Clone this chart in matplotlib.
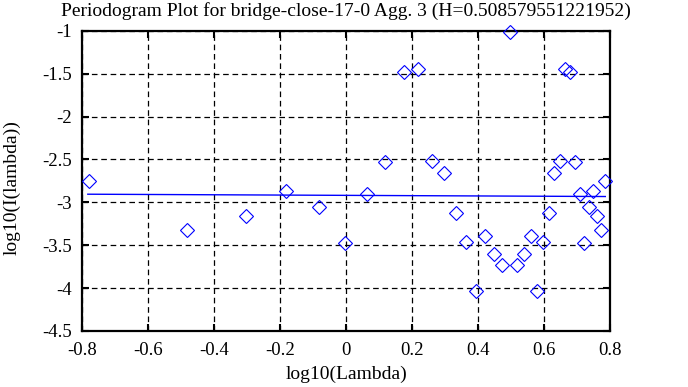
import matplotlib
matplotlib.use("Agg")
import matplotlib.pyplot as plt

# periodogram points (log10 lambda, log10 I(lambda))
log_lambda = [-0.779, -0.481, -0.304, -0.181, -0.083, -0.003, 0.063, 0.118,
              0.174, 0.219, 0.260, 0.297, 0.332, 0.363, 0.394, 0.420, 0.448,
              0.473, 0.497, 0.517, 0.539, 0.561, 0.578, 0.597, 0.615, 0.631,
              0.648, 0.664, 0.679, 0.693, 0.709, 0.722, 0.735, 0.747, 0.761,
              0.773, 0.785]
log_i = [-2.75, -3.32, -3.16, -2.87, -3.06, -3.47, -2.90, -2.53,
         -1.475, -1.445, -2.515, -2.66, -3.12, -3.46, -4.03, -3.39, -3.60,
         -3.73, -1.015, -3.73, -3.60, -3.39, -4.03, -3.46, -3.12, -2.66,
         -2.515, -1.445, -1.475, -2.53, -2.90, -3.47, -3.06, -2.87, -3.16,
         -3.32, -2.75]

# least squares fit line endpoints
fit_x = [-0.782, 0.785]
fit_y = [-2.905, -2.932]

xticks = [-0.8, -0.6, -0.4, -0.2, 0, 0.2, 0.4, 0.6, 0.8]
xticklabels = ["-0.8", "-0.6", "-0.4", "-0.2", "0", "0.2", "0.4", "0.6", "0.8"]
yticks = [-4.5, -4, -3.5, -3, -2.5, -2, -1.5, -1]
yticklabels = ["-4.5", "-4", "-3.5", "-3", "-2.5", "-2", "-1.5", "-1"]

plt.rcParams["font.family"] = ["Liberation Serif", "DejaVu Serif"]

fig = plt.figure(figsize=(6.88, 3.87), dpi=100)
ax = fig.add_axes([0.119, 0.145, 0.768, 0.775])

ax.plot(log_lambda, log_i, linestyle="none", marker="D", markersize=7.5,
        markerfacecolor="none", markeredgecolor="#0000ff",
        markeredgewidth=0.8, clip_on=False, zorder=3)
ax.plot(fit_x, fit_y, color="#0000ff", linewidth=1.0, zorder=2)

ax.set_xlim(-0.8, 0.8)
ax.set_ylim(-4.5, -1)
ax.set_xticks(xticks)
ax.set_xticklabels(xticklabels)
ax.set_yticks(yticks)
ax.set_yticklabels(yticklabels)

ax.grid(True, color="black", linestyle=(0, (4.5, 3)), linewidth=0.9)
ax.tick_params(direction="in", length=5, width=1.5, top=True, right=True,
               labelsize=13.5)
ax.tick_params(axis="x", pad=8)
ax.tick_params(axis="y", pad=7)
for s in ax.spines.values():
    s.set_linewidth(1.6)

ax.set_title("Periodogram Plot for bridge-close-17-0 Agg. 3 (H=0.508579551221952)",
             fontsize=14, pad=11)
ax.set_xlabel("log10(Lambda)", fontsize=14, labelpad=5)
ax.set_ylabel("log10(I(lambda))", fontsize=14)
ax.yaxis.set_label_coords(-0.116, 0.477)

fig.savefig("out.png", dpi=100)
